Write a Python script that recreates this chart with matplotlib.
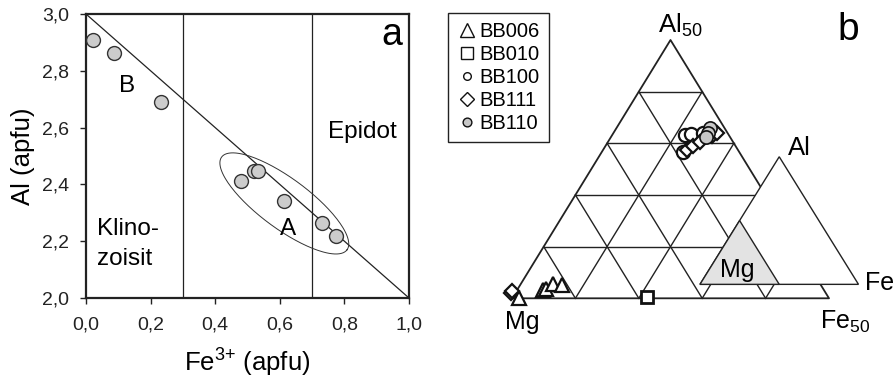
import numpy as np
import matplotlib
matplotlib.use("Agg")
import matplotlib.pyplot as plt
from matplotlib.ticker import FuncFormatter
from matplotlib.lines import Line2D
from matplotlib.patches import Polygon

plt.rcParams['font.family'] = 'Liberation Sans'
plt.rcParams['mathtext.fontset'] = 'custom'
plt.rcParams['mathtext.rm'] = 'Liberation Sans'
plt.rcParams['mathtext.it'] = 'Liberation Sans:italic'

# panel a: Fe3+ vs Al (apfu), sample BB110
fe3 = [0.021, 0.088, 0.233, 0.481, 0.520, 0.533, 0.613, 0.732, 0.773]
al = [2.908, 2.864, 2.690, 2.412, 2.448, 2.447, 2.340, 2.263, 2.218]
x_ticks = [0.0, 0.2, 0.4, 0.6, 0.8, 1.0]
y_ticks = [2.0, 2.2, 2.4, 2.6, 2.8, 3.0]
field_limits = [0.3, 0.7]

# panel b: ternary Al50 - Fe50 - Mg (fractions of Al50 and Fe50 apex)
tern = {
    'BB006': {'al': [0.001, 0.032, 0.035, 0.057, 0.050],
              'fe': [0.022, 0.081, 0.090, 0.102, 0.132]},
    'BB010': {'al': [0.006], 'fe': [0.422]},
    'BB100': {'al': [0.633, 0.636, 0.568, 0.639],
              'fe': [0.229, 0.246, 0.257, 0.284]},
    'BB111': {'al': [0.019, 0.029, 0.574, 0.590, 0.606, 0.628, 0.641],
              'fe': [-0.014, -0.013, 0.264, 0.277, 0.290, 0.316, 0.325]},
    'BB110': {'al': [0.658, 0.639, 0.623], 'fe': [0.295, 0.300, 0.300]},
}
styles = {
    'BB006': dict(marker='^', ms=10.5, mfc='white', mew=1.6),
    'BB010': dict(marker='s', ms=9, mfc='white', mew=2.0),
    'BB100': dict(marker='o', ms=9.5, mfc='white', mew=1.6),
    'BB111': dict(marker='D', ms=7.5, mfc='white', mew=1.6),
    'BB110': dict(marker='o', ms=9.5, mfc='#c8c8c8', mew=1.2),
}
legend_ms = {'BB006': 10.5, 'BB010': 8.5, 'BB100': 5.5, 'BB111': 7.5, 'BB110': 6.3}


def to_xy(a, f):
    a = np.asarray(a, float)
    f = np.asarray(f, float)
    return f + a / 2, a


fig = plt.figure(figsize=(8.95, 3.81), dpi=100)

# ---------- panel a ----------
ax = fig.add_axes([86 / 895, 1 - 298 / 381, 323 / 895, 284 / 381])
ax.set_xlim(0, 1)
ax.set_ylim(2, 3)
ax.plot([0, 1], [3, 2], color='#222222', lw=0.9, zorder=2)
for xv in field_limits:
    ax.axvline(xv, color='#222222', lw=0.9, zorder=2)

# ellipse around group A (drawn in screen proportions)
cx, cy, ea, eb, th = 0.614, 2.333, 78.0, 25.0, np.radians(36.5)
t = np.linspace(0, 2 * np.pi, 200)
dxp = ea * np.cos(t) * np.cos(th) - eb * np.sin(t) * np.sin(th)
dyp = ea * np.cos(t) * np.sin(th) + eb * np.sin(t) * np.cos(th)
ax.plot(cx + dxp / 323, cy - dyp / 284, color='#333333', lw=0.7, zorder=2)

ax.plot(fe3, al, ls='none', marker='o', ms=10, mfc='#cccccc', mec='#333333',
        mew=1.0, zorder=5)

ax.set_xticks(x_ticks)
ax.set_yticks(y_ticks)
fmt = FuncFormatter(lambda v, p: f'{v:.1f}'.replace('.', ','))
ax.xaxis.set_major_formatter(fmt)
ax.yaxis.set_major_formatter(fmt)
ax.tick_params(direction='out', length=4, width=1, labelsize=14, colors='#222222')
ax.tick_params(axis='x', pad=9)
ax.tick_params(axis='y', pad=8)
for sp in ax.spines.values():
    sp.set_linewidth(1.6)
    sp.set_color('#222222')
ax.set_xlabel('Fe$^{3{+}}$ (apfu)', fontsize=18.5, labelpad=10)
ax.set_ylabel('Al (apfu)', fontsize=18.5, labelpad=5)

ax.text(0.915, 2.891, 'a', fontsize=27, ha='left', va='baseline')
ax.text(0.103, 2.724, 'B', fontsize=17.5, ha='left', va='baseline')
ax.text(0.601, 2.222, 'A', fontsize=17.5, ha='left', va='baseline')
ax.text(0.750, 2.562, 'Epidot', fontsize=17.5, ha='left', va='baseline')
ax.text(0.035, 2.222, 'Klino-', fontsize=17.5, ha='left', va='baseline')
ax.text(0.035, 2.116, 'zoisit', fontsize=17.5, ha='left', va='baseline')

# ---------- panel b ----------
bx = fig.add_axes([512 / 895, 1 - 298.3 / 381, 317 / 895, 258.3 / 381])
bx.set_xlim(0, 1)
bx.set_ylim(0, 1)
bx.axis('off')

n = 5
for i in range(1, n):
    k = i / n
    # constant Al
    x, y = to_xy([k, k], [0, 1 - k])
    bx.plot(x, y, color='#222222', lw=1.0, clip_on=False, zorder=1)
    # constant Fe
    x, y = to_xy([0, 1 - k], [k, k])
    bx.plot(x, y, color='#222222', lw=1.0, clip_on=False, zorder=1)
    # constant Mg
    x, y = to_xy([0, 1 - k], [1 - k, 0])
    bx.plot(x, y, color='#222222', lw=1.0, clip_on=False, zorder=1)
x, y = to_xy([0, 0, 1, 0], [0, 1, 0, 0])
bx.plot(x, y, color='#222222', lw=1.3, clip_on=False, zorder=1)

# small reference triangle Al - Fe - Mg
ox, oy, s = 0.593, 0.054, 0.5
x, y = to_xy([0, 0, 1], [0, 1, 0])
big = Polygon(np.column_stack([ox + s * x, oy + s * y * 0.988]), closed=True,
              fc='white', ec='#222222', lw=1.0, zorder=3, clip_on=False)
bx.add_patch(big)
small = Polygon(np.column_stack([ox + s / 2 * x, oy + s / 2 * y * 0.988]),
                closed=True, fc='#e3e3e3', ec='#222222', lw=1.0, zorder=4,
                clip_on=False)
bx.add_patch(small)

for name, d in tern.items():
    x, y = to_xy(d['al'], d['fe'])
    bx.plot(x, y, ls='none', mec='#111111', clip_on=False, zorder=6,
            **styles[name])

handles = []
for name in tern:
    st = dict(styles[name])
    st['ms'] = legend_ms[name]
    st['mew'] = 1.0
    handles.append(Line2D([], [], ls='none', mec='#111111', **st))
leg = fig.legend(handles, list(tern), loc='upper left',
                 bbox_to_anchor=(448.3 / 895, 1 - 12.7 / 381), fontsize=14.5,
                 frameon=True, fancybox=False, framealpha=1, edgecolor='#222222',
                 borderpad=0.45, handlelength=0.95, handletextpad=0.15,
                 labelspacing=0.2, borderaxespad=0)
leg.get_frame().set_linewidth(1.0)


def ftext(xp, yp, s, **kw):
    fig.text(xp / 895, 1 - yp / 381, s, va='baseline', **kw)


ftext(658, 33, 'Al$_{\\mathregular{50}}$', fontsize=18.5, ha='left')
ftext(837, 40, 'b', fontsize=28, ha='left')
ftext(788, 155, 'Al', fontsize=18.5, ha='left')
ftext(865, 289.5, 'Fe', fontsize=18, ha='left')
ftext(737.5, 277.5, 'Mg', fontsize=18, ha='center')
ftext(505, 328.5, 'Mg', fontsize=18, ha='left')
ftext(820, 328.5, 'Fe$_{\\mathregular{50}}$', fontsize=18, ha='left')

fig.savefig('out.png', dpi=100)
